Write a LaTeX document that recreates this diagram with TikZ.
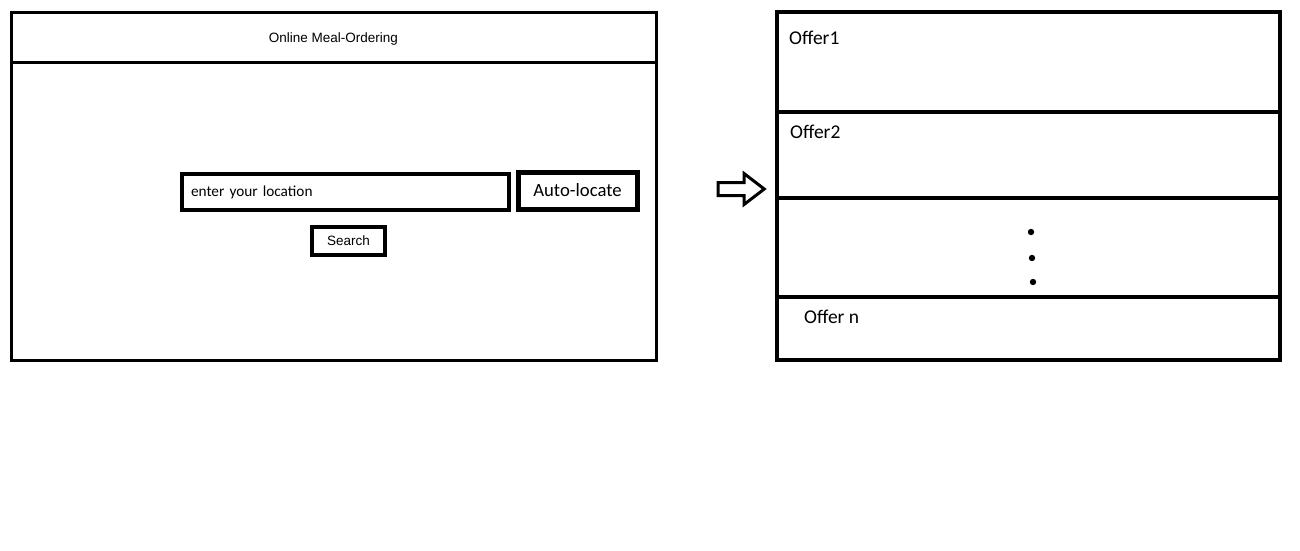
\documentclass[tikz,border=0pt]{standalone}
\usepackage{fontspec}
\newfontfamily\uifont{Carlito}
\newfontfamily\plainfont{Liberation Sans}
\usetikzlibrary{shapes.arrows}

\begin{document}
\begin{tikzpicture}[x=1pt,y=-1pt,
  frame/.style={draw,line width=3pt,minimum width=645pt,inner sep=0pt},
  cell/.style={draw,line width=4pt,minimum width=503pt,inner sep=0pt},
  tag/.style={anchor=base west,inner sep=0pt,font=\uifont\fontsize{19.5}{22}\selectfont},
  btn/.style={draw,inner sep=0pt,font=\plainfont\fontsize{13.5}{16}\selectfont},
  nextarrow/.style={single arrow,draw,line width=3pt,inner xsep=0pt,inner ysep=5pt,
    minimum height=46pt,single arrow head extend=9pt,single arrow tip angle=75}]
\useasboundingbox (0,0) rectangle (1300,550);
% search page
\node[frame,minimum height=348pt] (page) at (333.5,186) {};
\node[frame,minimum height=50pt,text height=11pt,text depth=0pt,
  font=\plainfont\fontsize{13.5}{16}\selectfont] (head) at (333.5,37) {Online Meal-Ordering};
\node[btn,line width=4pt,minimum width=327pt,minimum height=36pt,text width=309pt,align=left,
  font=\uifont\fontsize{15.3}{18}\selectfont] (field) at (345.5,192) {enter your location};
\node[btn,line width=5pt,minimum width=119pt,minimum height=37pt,
  font=\uifont\fontsize{18.7}{22}\selectfont] (auto) at (577.5,190.5) {Auto-locate};
\node[btn,line width=3.5pt,minimum width=73pt,minimum height=28pt] (search) at (348.5,241) {Search};
% arrow
\node[nextarrow] (go) at (737,189) {};
% offers list
\node[cell,minimum height=100pt] (o1) at (1028.5,62) {};
\node[cell,minimum height=86pt] (o2) at (1028.5,155) {};
\node[cell,minimum height=99pt] (omid) at (1028.5,247.5) {};
\node[cell,minimum height=63pt] (on) at (1028.5,328.5) {};
\node[tag] (t1) at (789,44) {Offer1};
\node[tag] (t2) at (790,138) {Offer2};
\node[tag] (tn) at (804,323) {Offer n};
\foreach \y/\x in {232/1031,258/1032,282/1033}
  \fill (\x,\y) circle[radius=3.2pt];
\end{tikzpicture}
\end{document}
